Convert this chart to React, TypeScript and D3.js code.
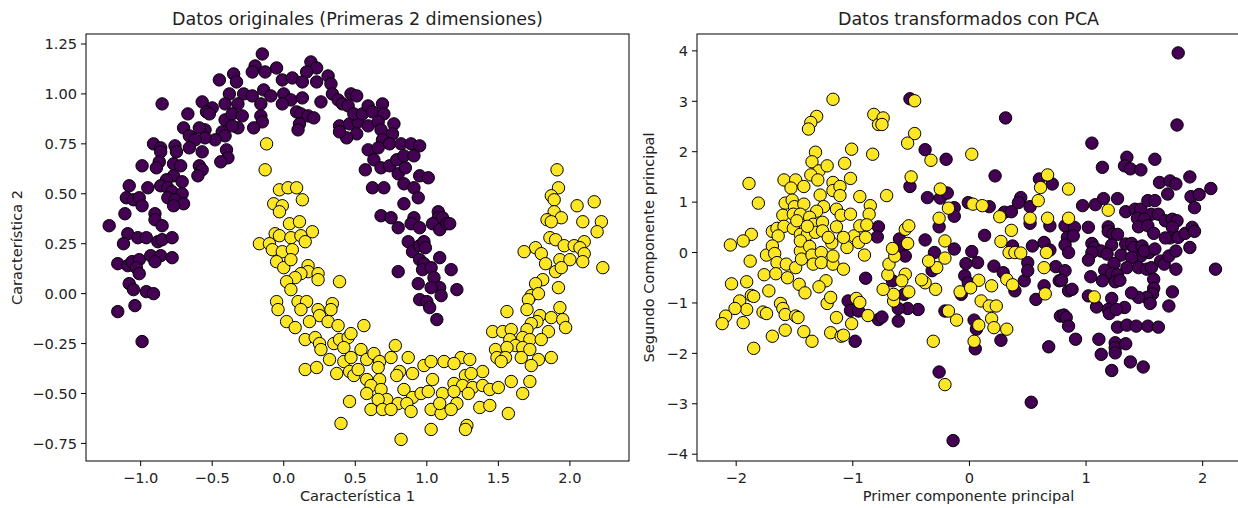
import * as d3 from 'd3';

type Pt = [number, number];

// make_moons, first two features (class 0 = purple, class 1 = yellow)
const origPurple: Pt[] = [
  [-0.15, 1.2], [-0.2, 1.14], [-0.22, 1.11], [-0.13, 1.11], [-0.35, 1.1], [-0.45, 1.07], [-0.33, 1.06], [-0.38, 1.0],
  [-0.28, 1.0], [-0.22, 0.99], [-0.14, 1.02], [-0.16, 0.95], [-0.32, 0.95], [-0.41, 0.95], [-0.57, 0.96], [-0.5, 0.93],
  [-0.54, 0.91], [-0.52, 0.9], [-0.67, 0.9], [-0.85, 0.95], [-0.41, 0.87], [-0.36, 0.9], [-0.29, 0.89], [-0.16, 0.89],
  [-0.15, 0.86], [-0.21, 0.83], [-0.32, 0.83], [-0.36, 0.84], [-0.43, 0.81], [-0.41, 0.79], [-0.48, 0.77], [-0.55, 0.82],
  [-0.59, 0.83], [-0.7, 0.83], [-0.66, 0.79], [-0.55, 0.78], [-0.62, 0.77], [-0.66, 0.73], [-0.57, 0.71], [-0.4, 0.72],
  [-0.39, 0.68], [-0.44, 0.66], [-0.59, 0.64], [-0.57, 0.62], [-0.6, 0.59], [-0.91, 0.75], [-0.86, 0.73], [-0.76, 0.74],
  [-0.75, 0.71], [-0.86, 0.71], [-0.87, 0.66], [-0.89, 0.63], [-0.99, 0.64], [-0.77, 0.65], [-0.72, 0.64], [-0.77, 0.59],
  [-0.82, 0.57], [-0.71, 0.56], [-1.08, 0.54], [-0.95, 0.53], [-0.86, 0.54], [-0.81, 0.53], [-0.78, 0.51], [-0.71, 0.5],
  [-0.81, 0.48], [-0.76, 0.47], [-0.7, 0.45], [-0.77, 0.44], [-1.1, 0.48], [-1.05, 0.47], [-1.01, 0.48], [-0.99, 0.44],
  [-1.11, 0.4], [-0.9, 0.4], [-0.9, 0.37], [-0.85, 0.34], [-1.22, 0.34], [-1.09, 0.3], [-1.12, 0.25], [-1.02, 0.28],
  [-0.96, 0.28], [-0.88, 0.26], [-0.85, 0.27], [-0.78, 0.28], [-1.16, 0.15], [-1.09, 0.14], [-1.06, 0.16], [-1.01, 0.17],
  [-1.03, 0.13], [-1.01, 0.1], [-0.93, 0.19], [-0.86, 0.19], [-0.9, 0.16], [-0.78, 0.18], [-1.08, 0.05], [-1.05, 0.02],
  [-0.96, 0.01], [-0.91, 0.0], [-1.04, -0.06], [-1.16, -0.09], [-0.99, -0.24],
  [-0.05, 1.13], [0.19, 1.16], [0.23, 1.13], [0.16, 1.11], [-0.01, 1.07], [0.06, 1.08], [0.13, 1.06], [0.23, 1.06],
  [0.31, 1.09], [0.33, 1.05], [-0.09, 0.99], [0.0, 1.0], [0.05, 0.97], [-0.01, 0.95], [0.13, 0.98], [0.26, 0.96],
  [0.34, 1.0], [0.38, 0.97], [0.47, 1.0], [0.51, 0.99], [0.41, 0.95], [0.45, 0.94], [0.09, 0.91], [0.12, 0.9],
  [0.17, 0.89], [0.21, 0.88], [0.11, 0.85], [0.1, 0.82], [0.39, 0.84], [0.46, 0.85], [0.52, 0.86], [0.59, 0.84],
  [0.51, 0.8], [0.44, 0.78], [0.39, 0.81], [0.49, 0.9], [0.55, 0.9], [0.59, 0.94], [0.62, 0.91], [0.69, 0.95],
  [0.7, 0.9], [0.66, 0.86], [0.68, 0.82], [0.77, 0.85], [0.76, 0.8], [0.69, 0.77], [0.74, 0.75], [0.82, 0.75],
  [0.89, 0.75], [0.95, 0.74], [0.59, 0.72], [0.66, 0.73], [0.63, 0.67], [0.57, 0.62], [0.68, 0.63], [0.74, 0.64],
  [0.79, 0.67], [0.8, 0.6], [0.85, 0.63], [0.84, 0.69], [0.91, 0.69], [0.84, 0.55], [0.91, 0.53], [0.95, 0.59],
  [1.01, 0.58], [0.94, 0.48], [0.62, 0.53], [0.7, 0.53], [0.84, 0.45], [0.68, 0.39], [0.75, 0.38], [0.91, 0.38],
  [1.08, 0.41], [1.08, 0.38], [1.11, 0.38], [0.8, 0.33], [0.89, 0.35], [0.95, 0.33], [1.04, 0.35], [1.09, 0.32],
  [1.14, 0.35], [0.87, 0.26], [0.9, 0.21], [0.95, 0.24], [0.98, 0.26], [0.99, 0.23], [0.95, 0.17], [0.98, 0.15],
  [0.97, 0.12], [1.03, 0.13], [1.09, 0.18], [0.8, 0.11], [1.05, 0.08], [1.09, 0.03], [1.1, -0.01], [1.03, 0.03],
  [0.94, 0.05], [0.95, -0.03], [1.0, -0.04], [1.02, -0.07], [1.07, -0.13], [1.17, 0.12], [1.16, 0.35], [1.21, 0.02],
];

const origYellow: Pt[] = [
  [-0.12, 0.75], [-0.13, 0.62], [-0.17, 0.25], [-0.03, 0.52], [0.03, 0.53], [0.09, 0.53], [0.13, 0.47], [-0.07, 0.45],
  [-0.01, 0.44], [-0.03, 0.41], [0.04, 0.35], [0.11, 0.36], [0.2, 0.31], [-0.06, 0.3], [-0.03, 0.29], [0.05, 0.28],
  [0.12, 0.29], [0.15, 0.26], [-0.1, 0.25], [-0.08, 0.22], [-0.01, 0.21], [0.06, 0.22], [-0.05, 0.16], [0.0, 0.13],
  [0.05, 0.17], [0.17, 0.14], [0.17, 0.11], [0.24, 0.1], [0.24, 0.07], [0.12, 0.1], [0.08, 0.08], [0.02, 0.06],
  [0.05, 0.02], [0.39, 0.06], [-0.05, -0.04], [-0.04, -0.08], [0.1, -0.04], [0.16, -0.04], [0.12, -0.08], [0.24, -0.08],
  [0.25, -0.11], [0.34, -0.05], [0.33, -0.08], [0.02, -0.14], [0.08, -0.17], [0.18, -0.14], [0.31, -0.14], [0.38, -0.16],
  [0.56, -0.16], [0.15, -0.23], [0.22, -0.22], [0.25, -0.25], [0.26, -0.28], [0.35, -0.25], [0.39, -0.23], [0.45, -0.22],
  [0.42, -0.27], [0.47, -0.2], [0.54, -0.28], [0.32, -0.33], [0.42, -0.34], [0.47, -0.32], [0.58, -0.33], [0.63, -0.3],
  [0.67, -0.34], [0.75, -0.32], [0.78, -0.26], [0.87, -0.32], [0.15, -0.38], [0.23, -0.37], [0.37, -0.4], [0.46, -0.39],
  [0.49, -0.41], [0.52, -0.38], [0.58, -0.43], [0.66, -0.37], [0.67, -0.43], [0.81, -0.39], [0.79, -0.41], [0.9, -0.4],
  [0.98, -0.36], [1.03, -0.34], [1.04, -0.43], [1.12, -0.34], [0.61, -0.46], [0.68, -0.48], [0.58, -0.5], [0.72, -0.53],
  [0.66, -0.53], [0.84, -0.48], [0.9, -0.52], [0.96, -0.5], [1.01, -0.49], [1.11, -0.5], [0.8, -0.55], [0.86, -0.55],
  [0.46, -0.54], [0.61, -0.58], [0.69, -0.58], [0.75, -0.58], [0.89, -0.59], [1.03, -0.58], [1.1, -0.6], [1.09, -0.55],
  [0.4, -0.65], [1.03, -0.68], [0.82, -0.73],
  [1.91, 0.62], [1.92, 0.53], [1.87, 0.49], [1.89, 0.47], [2.05, 0.44], [2.17, 0.46], [1.89, 0.41], [1.94, 0.38],
  [1.84, 0.37], [1.87, 0.36], [2.09, 0.36], [2.22, 0.36], [2.19, 0.31], [1.86, 0.28], [1.9, 0.27], [1.96, 0.24],
  [2.03, 0.24], [2.1, 0.26], [2.07, 0.23], [1.76, 0.23], [1.68, 0.21], [1.8, 0.2], [1.93, 0.17], [2.0, 0.17],
  [2.1, 0.2], [2.09, 0.16], [1.83, 0.15], [1.9, 0.11], [1.94, 0.13], [2.23, 0.13], [1.81, 0.07], [1.76, 0.05],
  [1.92, 0.03], [1.73, -0.01], [1.78, 0.0], [1.71, -0.03], [1.7, -0.08], [1.56, -0.09], [1.93, -0.07], [1.79, -0.11],
  [1.87, -0.12], [1.95, -0.13], [1.97, -0.17], [1.77, -0.14], [1.73, -0.15], [1.7, -0.18], [1.85, -0.19], [1.46, -0.19],
  [1.53, -0.19], [1.59, -0.18], [1.67, -0.22], [1.72, -0.23], [1.8, -0.23], [1.58, -0.23], [1.62, -0.26], [1.67, -0.27],
  [1.72, -0.28], [1.48, -0.28], [1.56, -0.27], [1.49, -0.32], [1.55, -0.32], [1.66, -0.32], [1.78, -0.33], [1.87, -0.32],
  [1.52, -0.34], [1.73, -0.36], [1.24, -0.32], [1.3, -0.33], [1.19, -0.35], [1.39, -0.39], [1.27, -0.41], [1.31, -0.4],
  [1.59, -0.44], [1.72, -0.44], [1.19, -0.45], [1.25, -0.46], [1.32, -0.47], [1.39, -0.46], [1.44, -0.48], [1.5, -0.47],
  [1.19, -0.49], [1.29, -0.5], [1.67, -0.5], [1.21, -0.55], [1.37, -0.57], [1.44, -0.56], [1.57, -0.6], [1.17, -0.58],
  [1.28, -0.66], [1.27, -0.68],
];

// PCA projection
const pcaPurple: Pt[] = [
  [-0.78, 0.51], [-0.79, 0.31], [-0.89, -0.51], [-1.04, -0.96], [-1.02, -1.15], [-0.95, -1.16], [-0.98, -1.76], [-0.78, -1.33],
  [-0.51, 3.05], [0.31, 2.67], [-0.38, 2.04], [-0.2, 1.85], [0.22, 1.52], [-0.51, 1.31], [-0.36, 1.09], [-0.25, 1.08],
  [-0.19, 1.18], [-0.13, 0.89], [-0.13, 0.72], [-0.26, 0.51], [-0.01, 0.99], [0.17, 0.91], [0.13, 0.34], [0.3, 0.8],
  [0.36, 0.81], [0.44, 1.09], [0.42, 0.99], [0.37, 0.13], [0.21, -0.27], [0.29, -0.4], [0.39, -0.76], [0.47, -0.56],
  [0.5, -0.2], [0.52, 0.91], [0.6, 1.46], [0.71, 1.36], [0.54, 0.13], [0.52, 0.58], [0.69, 0.53], [0.64, 0.2],
  [0.69, 0.05], [0.74, -0.28], [0.64, -0.66], [0.57, -0.93], [0.68, -1.87], [0.53, -2.97], [0.02, 0.02], [0.07, -0.2],
  [0.27, -1.74], [0.06, -1.52], [0.04, -1.34], [0.05, -1.91], [-0.21, -1.16], [-0.26, -2.37], [-0.14, -3.73], [-0.07, -0.83],
  [-0.04, -0.46], [-0.01, -0.6], [-0.03, -0.22], [-0.13, 0.07], [-0.3, 0.0], [-0.32, -0.36], [-0.38, 0.25], [-0.44, -1.13],
  [-0.53, -1.11], [-0.61, -1.11], [-0.61, -1.36], [-0.75, -1.28], [-0.66, -0.56], [-0.56, -0.83], [-0.6, 0.27], [-0.58, 0.1],
  [-0.55, -0.07], [0.5, -0.36], [0.77, -0.56], [0.78, -1.26],
  [1.79, 3.96], [1.78, 2.53], [1.05, 2.17], [1.14, 1.69], [1.35, 1.89], [1.33, 1.72], [1.38, 1.66], [1.47, 1.64],
  [1.59, 1.85], [1.63, 1.39], [1.72, 1.42], [1.77, 1.36], [1.7, 1.16], [1.89, 1.5], [2.07, 1.27], [1.9, 1.11],
  [1.97, 1.15], [1.93, 0.89], [0.97, 0.93], [1.08, 0.95], [1.15, 1.07], [1.27, 1.07], [1.34, 0.81], [1.42, 0.86],
  [1.47, 0.86], [1.53, 1.03], [1.59, 1.03], [1.56, 0.76], [1.62, 0.76], [1.44, 0.68], [1.5, 0.66], [1.45, 0.51],
  [1.53, 0.53], [1.58, 0.38], [1.68, 0.63], [1.74, 0.66], [1.78, 0.63], [1.74, 0.5], [1.72, 0.29], [1.68, 0.29],
  [1.79, 0.3], [1.85, 0.38], [1.91, 0.5], [1.93, 0.42], [1.89, 0.1], [2.11, -0.33], [0.85, 0.5], [0.82, 0.53],
  [0.9, 0.5], [0.84, 0.3], [0.89, 0.33], [0.82, 0.15], [0.85, 0.0], [1.02, 0.5], [1.19, 0.51], [1.19, 0.42],
  [1.23, 0.36], [1.27, 0.36], [1.05, 0.18], [1.07, 0.1], [1.13, 0.03], [1.05, 0.0], [1.02, -0.15], [1.22, 0.15],
  [1.18, -0.03], [1.3, -0.05], [1.24, -0.22], [1.34, 0.17], [1.39, 0.18], [1.41, 0.1], [1.48, 0.13], [1.54, 0.0],
  [1.47, -0.07], [1.5, 0.03], [1.59, 0.07], [1.39, -0.1], [1.35, -0.3], [1.45, -0.3], [1.52, -0.33], [1.56, -0.3],
  [1.64, -0.17], [1.67, -0.23], [1.71, -0.07], [1.77, 0.03], [1.77, -0.33], [1.16, -0.35], [1.22, -0.42], [1.27, -0.44],
  [1.25, -0.58], [1.29, -0.55], [1.14, -0.56], [1.04, -0.48], [1.58, -0.53], [1.58, -0.71], [1.57, -0.82], [1.52, -0.89],
  [1.45, -0.89], [1.39, -0.8], [1.55, -1.01], [1.74, -0.78], [1.71, -1.06], [1.33, -1.09], [1.22, -0.91], [1.19, -1.13],
  [1.2, -1.21], [1.26, -1.13], [1.09, -1.08], [1.02, -0.86], [0.82, -0.36], [0.79, -0.55], [0.85, -0.76], [0.88, -0.73],
  [0.81, -1.24], [0.83, -1.29], [0.85, -1.46], [0.91, -1.72], [1.11, -1.72], [1.27, -1.48], [1.35, -1.44], [1.43, -1.46],
  [1.53, -1.46], [1.62, -1.48], [1.25, -1.79], [1.25, -1.89], [1.34, -1.81], [1.25, -1.99], [1.13, -2.02], [1.38, -2.17],
  [1.49, -2.27], [1.22, -2.34],
];

const pcaYellow: Pt[] = [
  [-1.17, 3.04], [-1.31, 2.7], [-1.36, 2.58], [-1.38, 2.45], [-0.82, 2.74], [-0.78, 2.54], [-1.01, 2.05], [-1.32, 1.99],
  [-1.35, 1.8], [-1.29, 1.62], [-1.22, 1.72], [-1.36, 1.54], [-1.3, 1.44], [-1.07, 1.77], [-0.83, 1.95], [-1.02, 1.47],
  [-1.89, 1.37], [-1.81, 0.98], [-1.59, 1.44], [-1.49, 1.44], [-1.53, 1.28], [-1.42, 1.31], [-1.17, 1.39], [-1.17, 1.23],
  [-1.11, 1.31], [-1.11, 1.13], [-1.28, 1.14], [-0.94, 1.11], [-1.58, 0.98], [-1.52, 1.04], [-1.5, 0.91], [-1.42, 0.96],
  [-1.25, 0.91], [-1.31, 0.82], [-1.14, 0.86], [-1.1, 0.74], [-1.02, 0.76], [-0.85, 0.93], [-0.86, 0.76], [-1.6, 0.74],
  [-1.51, 0.76], [-1.45, 0.76], [-1.37, 0.7], [-1.34, 0.56], [-1.26, 0.6], [-1.69, 0.42], [-1.65, 0.48], [-1.59, 0.52],
  [-1.64, 0.33], [-1.51, 0.48], [-1.45, 0.36], [-1.39, 0.36], [-1.32, 0.4], [-1.26, 0.43], [-1.14, 0.51], [-1.18, 0.19],
  [-1.05, 0.1], [-0.99, 0.33], [-0.95, 0.2], [-0.94, 0.53], [-0.88, 0.55], [-0.89, 0.3], [-1.87, 0.36], [-1.94, 0.23],
  [-2.05, 0.15], [-1.88, -0.17], [-1.74, -0.05], [-1.69, 0.13], [-1.67, -0.02], [-1.65, -0.2], [-1.76, -0.44], [-1.66, -0.42],
  [-1.72, -0.76], [-1.57, -0.23], [-1.56, -0.5], [-1.49, -0.3], [-1.45, 0.03], [-1.44, -0.13], [-1.45, 0.23], [-1.37, 0.12],
  [-1.35, -0.05], [-1.34, -0.23], [-1.46, -0.63], [-1.41, -0.8], [-1.27, 0.0], [-1.27, -0.2], [-1.23, -0.56], [-1.29, -0.68],
  [-1.17, -0.23], [-1.08, -0.33], [-0.9, -0.05], [-1.17, -0.07], [-2.04, -0.62], [-1.91, -0.58], [-1.87, -0.85], [-1.85, -0.87],
  [-1.97, -0.96], [-1.91, -1.13], [-2.01, -1.11], [-2.09, -1.26], [-2.12, -1.41], [-1.94, -1.39], [-1.77, -1.18], [-1.74, -1.21],
  [-1.62, -1.01], [-1.6, -1.11], [-1.58, -1.23], [-1.49, -1.26], [-1.47, -1.29], [-1.69, -1.66], [-1.58, -1.54], [-1.42, -1.57],
  [-1.35, -1.76], [-1.85, -1.9], [-1.22, -1.01], [-1.19, -0.89], [-1.14, -1.29], [-1.19, -1.59], [-1.1, -1.66], [-1.08, -1.64],
  [-1.01, -1.41], [-0.97, -0.91], [-0.94, -0.99], [-0.87, -1.25], [-1.48, 0.63], [-1.39, 0.52], [-1.21, 0.3], [-1.08, 0.3],
  [-0.47, 3.01], [-0.74, 2.67], [-0.75, 2.54], [-0.47, 2.36], [-0.53, 2.17], [-0.33, 1.83], [0.02, 1.95], [-0.5, 1.5],
  [-0.71, 1.13], [-0.25, 1.26], [-0.18, 0.88], [-0.26, 0.68], [0.03, 0.96], [0.11, 0.93], [0.26, 0.71], [0.36, 0.44],
  [0.27, 0.22], [0.34, 0.0], [0.39, 0.0], [0.44, -0.01], [0.32, -0.53], [0.37, -0.64], [0.59, 1.03], [0.61, 1.29],
  [0.67, 1.54], [0.52, 0.68], [0.67, 0.68], [0.66, 0.0], [0.64, -0.3], [0.65, -0.82], [0.08, -0.55], [0.19, -0.66],
  [0.1, -0.96], [0.17, -1.06], [0.23, -1.06], [0.19, -1.31], [0.21, -1.49], [0.32, -1.52], [0.08, -1.44], [0.04, -1.76],
  [-0.11, -1.34], [-0.18, -1.16], [-0.31, -1.76], [-0.21, -2.62], [-0.08, -0.78], [0.01, -0.7], [-0.21, -0.11], [-0.28, -0.3],
  [-0.35, -0.17], [-0.38, -0.6], [-0.41, -0.54], [-0.29, -0.73], [-0.21, 0.23], [-0.65, -0.96], [-0.65, -0.83], [-0.74, -0.73],
  [-0.7, -0.44], [-0.55, -0.43], [-0.58, -0.56], [-0.52, -0.78], [-0.69, -0.23], [-0.64, -0.07], [-0.66, 0.08], [-0.53, 0.18],
  [-0.55, 0.46], [-0.52, 0.53], [0.85, 1.26], [0.85, 0.68], [1.19, 0.84], [1.07, -0.88],
];

const origXTicks = [-1.0, -0.5, 0.0, 0.5, 1.0, 1.5, 2.0];
const origYTicks = [-0.75, -0.5, -0.25, 0.0, 0.25, 0.5, 0.75, 1.0, 1.25];
const pcaXTicks = [-2, -1, 0, 1, 2];
const pcaYTicks = [-4, -3, -2, -1, 0, 1, 2, 3, 4];

const PURPLE = '#440154';
const YELLOW = '#fde725';
const FONT = '"DejaVu Sans", sans-serif';

const fmt = (v: number, digits: number) => v.toFixed(digits).replace('-', '\u2212');

// mix the two classes so the drawing order is shuffled like a single scatter call
function interleave(a: Pt[], b: Pt[]) {
  const out: { p: Pt; c: string }[] = [];
  const n = Math.max(a.length, b.length);
  for (let i = 0; i < n; i++) {
    if (i < a.length) out.push({ p: a[i], c: PURPLE });
    if (i < b.length) out.push({ p: b[i], c: YELLOW });
  }
  return out;
}

interface PanelProps {
  left: number;
  width: number;
  xDomain: [number, number];
  yDomain: [number, number];
  xTicks: number[];
  yTicks: number[];
  xDigits: number;
  yDigits: number;
  title: string;
  xLabel: string;
  yLabel: string;
  yLabelX: number;
  points: { p: Pt; c: string }[];
}

const TOP = 34;
const BOTTOM = 461;
const TICK_FS = 14.6;
const TITLE_FS = 17.5;

function Panel(props: PanelProps) {
  const { left, width, xDomain, yDomain, xTicks, yTicks, xDigits, yDigits, title, xLabel, yLabel, yLabelX, points } = props;
  const x = d3.scaleLinear().domain(xDomain).range([left, left + width]);
  const y = d3.scaleLinear().domain(yDomain).range([BOTTOM, TOP]);
  const cx = left + width / 2;
  const cy = (TOP + BOTTOM) / 2;

  return (
    <g fontFamily={FONT}>
      {points.map((d, i) => (
        <circle key={i} cx={x(d.p[0])} cy={y(d.p[1])} r={6.2} fill={d.c} stroke="#000" strokeWidth={1} />
      ))}
      <rect x={left} y={TOP} width={width} height={BOTTOM - TOP} fill="none" stroke="#000" strokeWidth={1} />
      {xTicks.map((t) => (
        <g key={'x' + t}>
          <line x1={x(t)} x2={x(t)} y1={BOTTOM} y2={BOTTOM + 5} stroke="#000" strokeWidth={1} />
          <text x={x(t)} y={BOTTOM + 22} textAnchor="middle" fontSize={TICK_FS} fill="#222">
            {fmt(t, xDigits)}
          </text>
        </g>
      ))}
      {yTicks.map((t) => (
        <g key={'y' + t}>
          <line x1={left - 5} x2={left} y1={y(t)} y2={y(t)} stroke="#000" strokeWidth={1} />
          <text x={left - 9} y={y(t)} dy="0.36em" textAnchor="end" fontSize={TICK_FS} fill="#222">
            {fmt(t, yDigits)}
          </text>
        </g>
      ))}
      <text x={cx} y={25} textAnchor="middle" fontSize={TITLE_FS} fill="#222">
        {title}
      </text>
      <text x={cx} y={501} textAnchor="middle" fontSize={TICK_FS} fill="#222">
        {xLabel}
      </text>
      <text
        transform={`translate(${yLabelX},${cy}) rotate(-90)`}
        textAnchor="middle"
        fontSize={TICK_FS}
        fill="#222"
      >
        {yLabel}
      </text>
    </g>
  );
}

export default function App() {
  return (
    <svg
      width={1238}
      height={508}
      viewBox="0 0 1238 508"
      style={{ position: 'absolute', left: 0, top: 0, background: '#fff', display: 'block' }}
    >
      <Panel
        left={86}
        width={543}
        xDomain={[-1.382, 2.413]}
        yDomain={[-0.838, 1.3]}
        xTicks={origXTicks}
        yTicks={origYTicks}
        xDigits={1}
        yDigits={2}
        title="Datos originales (Primeras 2 dimensiones)"
        xLabel="Característica 1"
        yLabel="Característica 2"
        yLabelX={22}
        points={[...origPurple.map((p) => ({ p, c: PURPLE })), ...origYellow.map((p) => ({ p, c: YELLOW }))]}
      />
      <Panel
        left={697}
        width={543}
        xDomain={[-2.336, 2.32]}
        yDomain={[-4.135, 4.335]}
        xTicks={pcaXTicks}
        yTicks={pcaYTicks}
        xDigits={0}
        yDigits={0}
        title="Datos transformados con PCA"
        xLabel="Primer componente principal"
        yLabel="Segundo Componente principal"
        yLabelX={654}
        points={interleave(pcaPurple, pcaYellow)}
      />
    </svg>
  );
}
